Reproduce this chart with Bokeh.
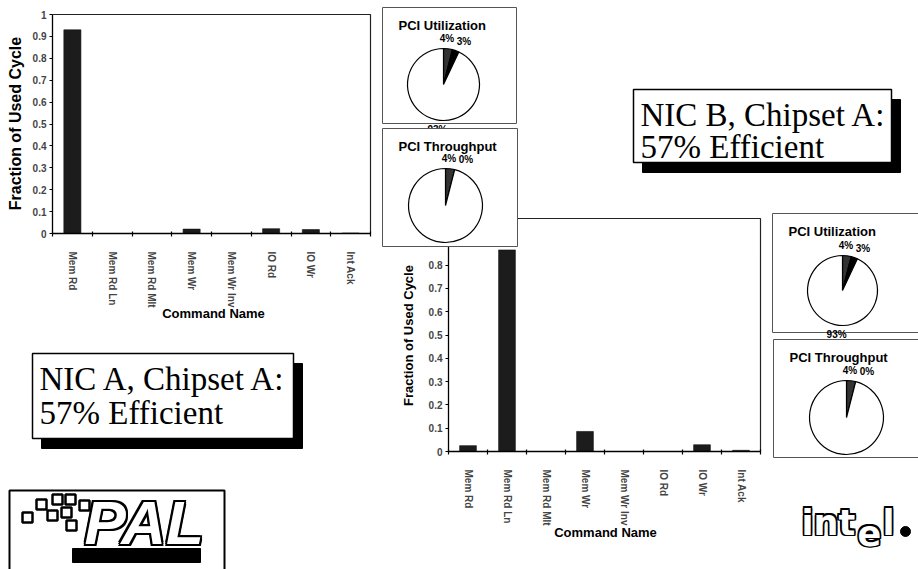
import math
from bokeh.plotting import figure
from bokeh.models import Range1d, LinearAxis, FixedTicker, ColumnDataSource
from bokeh.core.properties import value
from bokeh.embed import file_html
from bokeh.resources import INLINE

# ---------------- data ----------------
commands = ["Mem Rd", "Mem Rd Ln", "Mem Rd Mlt", "Mem Wr", "Mem Wr Inv", "IO Rd", "IO Wr", "Int Ack"]
nic_a_fraction = [0.93, 0.0, 0.0, 0.02, 0.0, 0.022, 0.018, 0.002]
nic_b_fraction = [0.025, 0.865, 0.0, 0.086, 0.0, 0.0, 0.029, 0.005]
y_ticks = [0, 0.1, 0.2, 0.3, 0.4, 0.5, 0.6, 0.7, 0.8, 0.9, 1]
y_tick_labels = ["0", "0.1", "0.2", "0.3", "0.4", "0.5", "0.6", "0.7", "0.8", "0.9", "1"]
y_title = "Fraction of Used Cycle"
x_title = "Command Name"
pie_titles = ["PCI Utilization", "PCI Throughput"]
nic_a_utilization = [4, 3, 93]
nic_a_throughput = [4, 0, 96]
nic_b_utilization = [4, 3, 93]
nic_b_throughput = [4, 0, 96]
nic_a_caption = ["NIC A, Chipset A:", "57% Efficient"]
nic_b_caption = ["NIC B, Chipset A:", "57% Efficient"]

# ---------------- page ----------------
W, H = 918, 569
SANS = "Liberation Sans"
SERIF = "Liberation Serif"

p = figure(width=W, height=H, x_range=Range1d(0, W), y_range=Range1d(H, 0),
           x_axis_type=None, y_axis_type=None, toolbar_location=None,
           output_backend="svg", min_border=0)
p.grid.visible = False
p.outline_line_color = None
p.background_fill_color = "white"
p.border_fill_color = "white"


def label(x, y, s, size, font=SANS, style="bold", align="center", baseline="middle",
          angle=0.0, color="black", level="glyph"):
    p.text(x=[x], y=[y], text=[s], text_font=value(font), text_font_style=style,
           text_font_size=size, text_align=align, text_baseline=baseline,
           angle=angle, text_color=color, level=level)


def bar_chart(key, values, x_left, x_right, y_zero, y_one, ytitle_xy, ytitle_size, xtitle_xy):
    n = len(commands)
    cw = (x_right - x_left) / n
    p.extra_x_ranges[key + "x"] = Range1d((0 - x_left) / cw, (W - x_left) / cw)
    s = y_zero - y_one
    p.extra_y_ranges[key + "y"] = Range1d((y_zero - H) / s, (y_zero - 0) / s)
    rn = dict(x_range_name=key + "x", y_range_name=key + "y")

    # plot-area border (top + right)
    p.line(x=[0, n, n], y=[1, 1, 0], line_color="#222222", line_width=1.2, **rn)

    src = ColumnDataSource(dict(x=[i + 0.5 for i in range(n)], top=values, cmd=commands))
    p.vbar(x="x", top="top", bottom=0, width=0.43, source=src,
           fill_color="#1c1c1c", line_color="#111111", line_width=0.6, **rn)

    yax = LinearAxis(fixed_location=0, bounds=(0, 1), ticker=FixedTicker(ticks=y_ticks),
                     major_label_overrides={t: l for t, l in zip(y_ticks, y_tick_labels)},
                     major_tick_in=0, major_tick_out=3, minor_tick_line_color=None,
                     axis_line_width=1.3, major_tick_line_width=1.2,
                     major_label_text_font=SANS, major_label_text_font_style="bold",
                     major_label_text_font_size="10px", major_label_standoff=3, **rn)
    p.add_layout(yax, "left")

    centers = [i + 0.5 for i in range(n)]
    cat_ax = LinearAxis(fixed_location=0, bounds=(0, n),
                        ticker=FixedTicker(ticks=centers, minor_ticks=list(range(n + 1))),
                        major_label_overrides={c: name for c, name in zip(centers, commands)},
                        major_tick_line_color=None,
                        minor_tick_in=2, minor_tick_out=3, minor_tick_line_width=1.2,
                        axis_line_width=1.3,
                        major_label_orientation="vertical", major_label_standoff=12,
                        major_label_text_font=SANS, major_label_text_font_style="bold",
                        major_label_text_font_size="10px", **rn)
    p.add_layout(cat_ax, "below")

    label(ytitle_xy[0], ytitle_xy[1], y_title, ytitle_size, angle=math.pi / 2)
    label(xtitle_xy[0], xtitle_xy[1], x_title, "13px")


def pie_box(x0, y0, x1, y1, title, values, cx, cy, r, n_labels):
    lv = "overlay"
    p.quad(left=[x0], right=[x1], top=[y0], bottom=[y1], fill_color="white",
           line_color="#555555", line_width=1, level=lv)
    label(x0 + 16, y0 + 18, title, "13px", align="left", level=lv)
    total = float(sum(values))
    colors = ["#333333", "#000000", "#ffffff"]
    starts, ends, fills = [], [], []
    cum = 0.0
    mids = []
    for v, c in zip(values, colors):
        a0 = math.pi / 2 - 2 * math.pi * cum / total
        cum += v
        a1 = math.pi / 2 - 2 * math.pi * cum / total
        mids.append((cum - v / 2.0) / total * 2 * math.pi)
        if v > 0:
            starts.append(a0)
            ends.append(a1)
            fills.append(c)
    p.wedge(x=[cx] * len(starts), y=[cy] * len(starts), radius=r, start_angle=starts,
            end_angle=ends, direction="clock", fill_color=fills, line_color="black",
            line_width=1.2, level=lv)
    prev_x = None
    for k in range(n_labels):
        th = mids[k]
        d = r + 10
        lx = cx + d * math.sin(th) * 0.6
        ly = cy - d * math.cos(th)
        if prev_x is not None and math.cos(th) > 0 and lx < prev_x + 17:
            lx = prev_x + 17
        prev_x = lx
        label(lx, ly, f"{values[k]}%", "10px", level=lv)


def caption_box(x0, y0, x1, y1, lines, tx, ty, dy, size="33px"):
    p.quad(left=[x0 + 9], right=[x1 + 9], top=[y0 + 10], bottom=[y1 + 10],
           fill_color="black", line_color="black")
    p.quad(left=[x0], right=[x1], top=[y0], bottom=[y1], fill_color="white",
           line_color="black", line_width=1.5)
    for i, s in enumerate(lines):
        label(tx, ty + i * dy, s, size, font=SERIF, style="normal", align="left")


def outlined(x, y, s, size, font, style, t=1.6):
    offs = [(-t, 0), (t, 0), (0, -t), (0, t), (-t, -t), (t, t), (-t, t), (t, -t)]
    p.text(x=[x + a for a, b in offs], y=[y + b for a, b in offs], text=[s] * len(offs),
           text_font=value(font), text_font_style=style, text_font_size=size,
           text_color="black", text_baseline="middle", text_align="left")
    p.text(x=[x], y=[y], text=[s], text_font=value(font), text_font_style=style,
           text_font_size=size, text_color="white", text_baseline="middle", text_align="left")


# ---------------- charts ----------------
bar_chart("a", nic_a_fraction, 52, 370, 233, 14, (15, 123), "16px", (213, 313))
bar_chart("b", nic_b_fraction, 448, 760, 451, 218, (408, 335), "13px", (605, 532))

pie_box(382, 7, 516, 123, pie_titles[0], nic_a_utilization, 443, 84, 36, 3)
pie_box(382, 128, 517, 246, pie_titles[1], nic_a_throughput, 445, 205, 37, 2)
pie_box(772, 213, 930, 332, pie_titles[0], nic_b_utilization, 842, 290, 35, 3)
pie_box(773, 339, 930, 457, pie_titles[1], nic_b_throughput, 846, 417, 37, 2)

caption_box(633, 89, 891, 162, nic_b_caption, 640, 114, 32)
caption_box(32, 353, 293, 438, nic_a_caption, 39, 378, 34)

# ---------------- logos ----------------
p.quad(left=[9], right=[224], top=[490], bottom=[590], fill_color=None,
       line_color="black", line_width=2)
sq_x = [27, 41, 52, 57, 70, 66, 71, 84]
sq_y = [517, 504, 515, 499, 499, 512, 525, 505]
p.rect(x=sq_x, y=sq_y, width=10, height=10, fill_color="white", line_color="black",
       line_width=2.5)
outlined(84, 522, "PAL", "62px", SANS, "bold italic", t=2)
p.quad(left=[72], right=[200], top=[548], bottom=[562], fill_color="black", line_color="black")

outlined(801, 522, "int", "35px", "DejaVu Sans", "bold", t=1.6)
outlined(857, 532, "e", "35px", "DejaVu Sans", "bold", t=1.6)
outlined(882, 522, "l", "35px", "DejaVu Sans", "bold", t=1.6)
p.scatter(x=[905], y=[531], size=10, marker="circle", fill_color="black", line_color="black")

open("out.html", "w").write(file_html(p, INLINE))
